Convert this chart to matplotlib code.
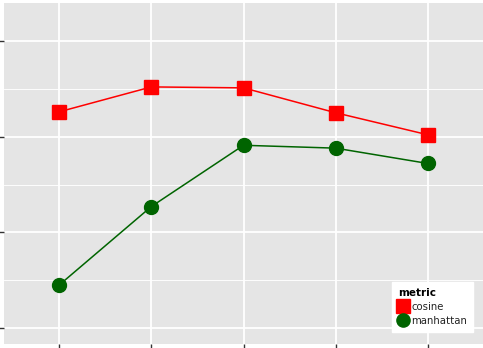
import matplotlib
matplotlib.use("Agg")
import matplotlib.pyplot as plt
from matplotlib.lines import Line2D

# data (axis labels are cropped out, so units are arbitrary)
steps = [1, 2, 3, 4, 5]
cosine = [2.26, 2.52, 2.51, 2.25, 2.02]
manhattan = [0.45, 1.27, 1.91, 1.88, 1.72]
y_major = [0, 1, 2, 3]
y_minor = [0.5, 1.5, 2.5]

fig = plt.figure(figsize=(4.83, 3.48), dpi=100)
ax = fig.add_axes([4 / 483, 4 / 348, 479 / 483, 341 / 348])
ax.set_facecolor("#E5E5E5")
for s in ax.spines.values():
    s.set_visible(False)

ax.set_xlim(0.4, 5.6)
ax.set_ylim(-0.167, 3.397)

# grid: ggplot style
for v in y_major:
    ax.axhline(v, color="white", lw=1.3, zorder=1)
for v in y_minor:
    ax.axhline(v, color="white", lw=0.65, zorder=1)
for v in steps:
    ax.axvline(v, color="white", lw=1.3, zorder=1)

ax.plot(steps, cosine, color="#FF0000", lw=1.1, marker="s", ms=10,
        mec="#FF0000", mfc="#FF0000", zorder=3)
ax.plot(steps, manhattan, color="#006400", lw=1.1, marker="o", ms=10,
        mec="#006400", mfc="#006400", zorder=3)

ax.set_xticks(steps)
ax.set_yticks(y_major)
ax.set_xticklabels([])
ax.set_yticklabels([])
ax.tick_params(length=3.5, width=1, color="#333333")

handles = [
    Line2D([], [], ls="none", marker="s", ms=9.5, color="#FF0000"),
    Line2D([], [], ls="none", marker="o", ms=9.5, color="#006400"),
]
leg = ax.legend(handles, ["cosine", "manhattan"], title="metric",
                loc="lower right", bbox_to_anchor=(0.99, 0.02),
                frameon=True, fancybox=False, framealpha=1, edgecolor="white",
                fontsize=7.3, title_fontsize=7.5, handlelength=1.0,
                handletextpad=0.3, labelspacing=0.4, borderpad=0.6,
                alignment="left")
leg.get_title().set_fontweight("bold")
for t in leg.get_texts():
    t.set_color("#222222")

fig.savefig("out.png", dpi=100)
